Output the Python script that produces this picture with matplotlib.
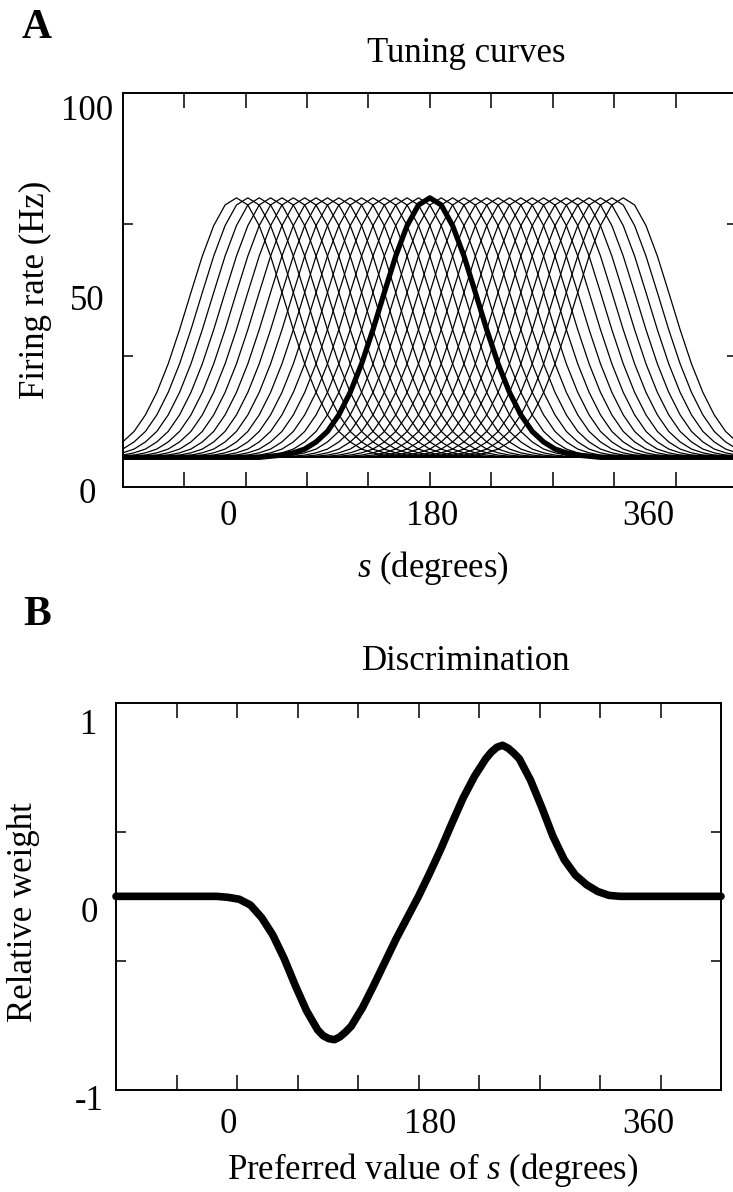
import numpy as np
import matplotlib
matplotlib.use("Agg")
import matplotlib.pyplot as plt
import matplotlib.transforms as mt

plt.rcParams["font.family"] = ["Liberation Serif", "DejaVu Serif"]
plt.rcParams["mathtext.fontset"] = "custom"
plt.rcParams["mathtext.rm"] = "Liberation Serif"
plt.rcParams["mathtext.it"] = "Liberation Serif:italic"

W, H = 733, 1192

# shape of one tuning curve (degrees from preferred value, Hz)
profile_offset = [-540, -180, -150, -140, -130, -120, -110, -100, -90, -80, -70, -60,
                  -50, -40, -30, -20, -10, 0, 10, 20, 30, 40, 50, 60, 70, 80, 90,
                  100, 110, 120, 130, 140, 150, 180, 540]
profile_rate = [6.9, 6.9, 6.9, 7.2, 7.5, 8.1, 9.1, 11.0, 13.8, 18.2, 24.2, 31.8,
                40.9, 50.8, 60.5, 68.6, 74.1, 76.0, 74.1, 68.6, 60.5, 50.8, 40.9, 31.8,
                24.2, 18.2, 13.8, 11.0, 9.1, 8.1, 7.5, 7.2, 6.9, 6.9, 6.9]

# preferred values of the plotted neurons (degrees)
preferred = [10, 20, 30, 40, 50, 60, 70, 80, 90, 100, 110, 120, 130, 140, 150, 160, 170,
             180, 190, 200, 210, 220, 230, 240, 250, 260, 270, 280, 290, 300, 310, 320,
             330, 340, 350]
highlighted = 180

# discrimination weights
weight_s = [-90, 0, 10, 20, 30, 40, 50, 60, 70, 80, 90, 95, 100, 105, 110, 115, 120, 130,
            140, 150, 160, 170, 180, 190, 200, 210, 220, 230, 240, 245, 250, 255, 260,
            265, 270, 280, 290, 300, 310, 320, 330, 340, 350, 360, 450]
weight = [0, 0, -0.005, -0.015, -0.045, -0.11, -0.20, -0.32, -0.46, -0.59, -0.69, -0.72,
          -0.735, -0.74, -0.725, -0.70, -0.67, -0.575, -0.46, -0.34, -0.22, -0.11, 0.0,
          0.12, 0.245, 0.38, 0.51, 0.62, 0.71, 0.745, 0.77, 0.78, 0.765, 0.74, 0.71, 0.60,
          0.46, 0.31, 0.19, 0.11, 0.06, 0.025, 0.005, 0, 0]

x_ticks = [0, 180, 360]
x_ticklabels = ["0", "180", "360"]
fs = 25


def fx(px):
    return px / W


def fy(py):
    return 1 - py / H


def shift_labels(fig, labels, dx=None, dy=None):
    for i, lab in enumerate(labels):
        ox = dx[i] if dx else 0
        oy = dy[i] if dy else 0
        off = mt.ScaledTranslation(ox / 100, -oy / 100, fig.dpi_scale_trans)
        lab.set_transform(lab.get_transform() + off)


def style(ax, yt, ytl, xpad, ypad):
    ax.set_xlim(-90, 450)
    ax.set_xticks(x_ticks)
    ax.set_xticklabels(x_ticklabels)
    ax.set_xticks(np.linspace(-90, 450, 11)[1:-1], minor=True)
    ax.set_yticks(yt)
    ax.set_yticklabels(ytl)
    lo, hi = ax.get_ylim()
    ax.set_yticks([lo + (hi - lo) / 3, lo + 2 * (hi - lo) / 3], minor=True)
    ax.xaxis.remove_overlapping_locs = False
    ax.yaxis.remove_overlapping_locs = False
    ax.tick_params(which="major", length=0, labelsize=fs)
    ax.tick_params(axis="x", which="major", pad=xpad)
    ax.tick_params(axis="y", which="major", pad=ypad)
    for t in ax.get_yticklabels():
        t.set_horizontalalignment("center")
    ax.tick_params(axis="x", which="minor", direction="in", length=11, width=1.1,
                   top=True, bottom=True)
    ax.tick_params(axis="y", which="minor", direction="in", length=7, width=1.1,
                   left=True, right=True)
    for sp in ax.spines.values():
        sp.set_linewidth(1.4)


fig = plt.figure(figsize=(W / 100, H / 100), dpi=100)

# A: tuning curves
axA = fig.add_axes([fx(122.7), fy(487), fx(737) - fx(122.7), fy(92.7) - fy(487)])
for c in preferred:
    axA.plot(np.add(profile_offset, c), profile_rate, color="black", lw=0.9)
axA.plot(np.add(profile_offset, highlighted), profile_rate, color="black", lw=3.8,
         solid_capstyle="round")
axA.set_ylim(-1, 104)
style(axA, [0, 50, 100], ["0", "50", "100"], xpad=9, ypad=25.7)
shift_labels(fig, axA.get_xticklabels(), dx=[3, 2, 14])
shift_labels(fig, axA.get_yticklabels(), dy=[7, 2.5, 0])

# B: discrimination weights
axB = fig.add_axes([fx(116), fy(1090), fx(721) - fx(116), fy(702.7) - fy(1090)])
axB.plot(weight_s, weight, color="black", lw=5.5, solid_capstyle="round",
         solid_joinstyle="round", clip_on=False)
axB.set_ylim(-1, 1)
style(axB, [-1, 0, 1], ["-1", "0", "1"], xpad=13.3, ypad=19.4)
shift_labels(fig, axB.get_xticklabels(), dx=[11, 12, 28])
shift_labels(fig, axB.get_yticklabels(), dy=[8, 13, 19])

fig.text(fx(37), fy(28), "A", fontsize=30, fontweight="bold", ha="center", va="center")
fig.text(fx(466), fy(53), "Tuning curves", fontsize=fs, ha="center", va="center")
fig.text(fx(35), fy(290), "Firing rate (Hz)", fontsize=fs, rotation=90,
         ha="center", va="center")
fig.text(fx(433), fy(568), "$s$ (degrees)", fontsize=fs, ha="center", va="center")

fig.text(fx(37), fy(615), "B", fontsize=30, fontweight="bold", ha="center", va="center")
fig.text(fx(466), fy(662), "Discrimination", fontsize=fs, ha="center", va="center")
fig.text(fx(24), fy(912), "Relative weight", fontsize=fs, rotation=90,
         ha="center", va="center")
fig.text(fx(433), fy(1170), "Preferred value of $s$ (degrees)", fontsize=fs,
         ha="center", va="center")

fig.savefig("out.png", dpi=100)
